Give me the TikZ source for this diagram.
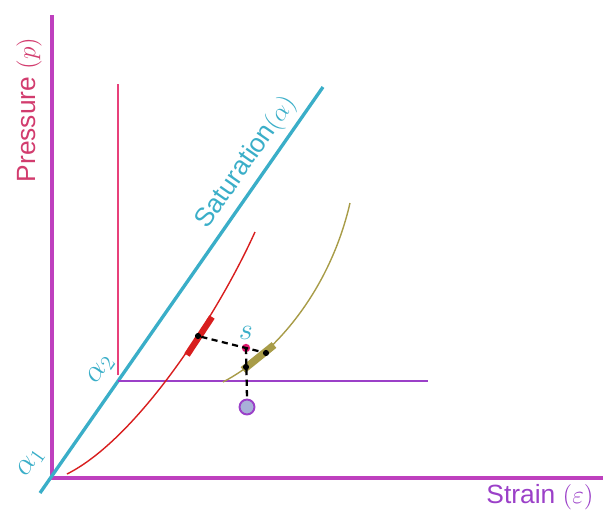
\documentclass[tikz,border=0pt]{standalone}
\usepackage{fontspec}
\setsansfont{Liberation Sans}
\usetikzlibrary{positioning, calc}

\definecolor{axiscol}{RGB}{190,64,190}
\definecolor{satcol}{RGB}{58,174,200}
\definecolor{prescol}{RGB}{210,60,110}
\definecolor{wallcol}{RGB}{232,64,122}
\definecolor{straincol}{RGB}{155,64,200}
\definecolor{redcurve}{RGB}{216,30,30}
\definecolor{olivecurve}{RGB}{168,156,72}
\definecolor{pointcol}{RGB}{224,24,110}
\definecolor{ballcol}{RGB}{168,176,216}

\begin{document}
\begin{tikzpicture}[
    x=0.02cm, y=-0.02cm,
    axis/.style={draw=axiscol, line width=2pt},
    label/.style={font=\sffamily\fontsize{15}{18}\selectfont, inner sep=1pt},
    greek/.style={text=satcol, font=\fontsize{17}{20}\selectfont, inner sep=1pt},
    proj/.style={dashed, dash pattern=on 3.5pt off 2.5pt, line width=1.3pt, black},
    dot/.style={circle, fill=black, inner sep=0pt, minimum size=3.5pt}
]
\useasboundingbox (0,0) rectangle (603,511);

% axes
\coordinate (origin) at (52,478);
\coordinate (ytop) at (52,15);
\coordinate (xend) at (603,478);
\draw[axis] (ytop) -- (origin) -- (xend);
\node[label, text=prescol, rotate=90] (pres) at (29,110) {Pressure $(p)$};
\node[label, text=straincol] (strain) at (540,497) {Strain $(\varepsilon)$};

% saturation line
\coordinate (satlo) at (40,493);
\coordinate (sathi) at (323,87);
\draw[satcol, line width=1.9pt] (satlo) -- (sathi)
    node[pos=0.787, sloped, above=2pt, label, text=satcol, font=\sffamily\fontsize{15}{18}\selectfont] (satlabel) {Saturation$\bigl(\alpha\bigr)$};
\node[greek, rotate=55] (a1) at (31,463) {$\alpha_1$};
\node[greek, rotate=55] (a2) at (101,370) {$\alpha_2$};

% wall and level
\coordinate (walltop) at (118,84);
\coordinate (wallbot) at (118,375);
\coordinate (levelr) at (428,381);
\draw[wallcol, line width=0.9pt] (walltop) -- (wallbot);
\draw[straincol, line width=1.3pt] (118,381) -- (levelr);

% curves
\draw[redcurve, line width=0.8pt] (67,474) .. controls (135,440) and (215,320) .. (255,232);
\draw[olivecurve, line width=0.8pt] (223,382) .. controls (275,355) and (330,290) .. (350,203);
\draw[redcurve, line width=3.6pt] (187,355) -- (212,317);
\draw[olivecurve, line width=4.2pt] (243,370) -- (274,345);

% projections of s
\node[dot] (pred) at (198,336) {};
\node[dot] (polive) at (266,353) {};
\node[dot] (pdown) at (246,367) {};
\node[circle, fill=pointcol, inner sep=0pt, minimum size=4.8pt] (s) at (246,348) {};
\node[circle, draw=straincol, line width=1.1pt, fill=ballcol, inner sep=0pt, minimum size=8.5pt] (ball) at (247,407) {};
\draw[proj] (pred) -- (s.center) -- (polive);
\draw[proj] (s.center) -- (ball.north);
\node[greek, above=1pt of s] (slabel) {$s$};
\end{tikzpicture}
\end{document}
